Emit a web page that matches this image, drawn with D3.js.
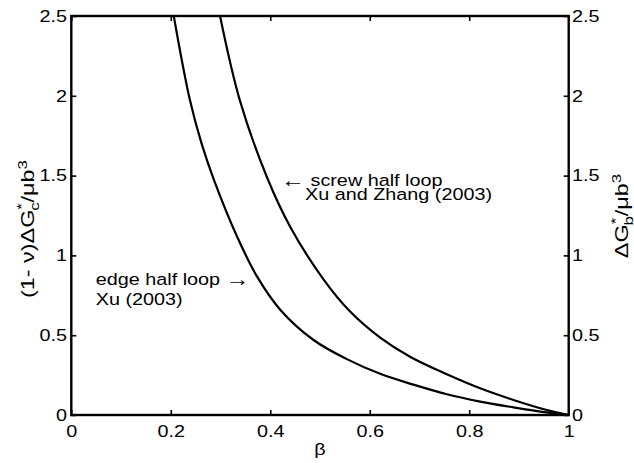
<!DOCTYPE html>
<html>
<head>
<meta charset="utf-8">
<script src="https://cdn.jsdelivr.net/npm/d3@7"></script>
<style>
  html, body { margin: 0; padding: 0; background: #fff; }
  svg { display: block; }
  text { font-family: "Liberation Sans", Arial, Helvetica, sans-serif; fill: #000; }
</style>
</head>
<body>
<svg id="chart" width="634" height="463"></svg>
<script>
// Activation energy vs. normalized stress beta, two half-loop models
const edgeBeta  = [0.206, 0.238, 0.262, 0.286, 0.333, 0.373, 0.420, 0.487, 0.554, 0.621, 0.688, 0.755, 0.822, 0.889, 0.956, 1.0];
const edgeG     = [2.50, 1.98, 1.70, 1.48, 1.12, 0.87, 0.66, 0.47, 0.35, 0.258, 0.19, 0.130, 0.084, 0.048, 0.016, 0];
const screwBeta = [0.299, 0.339, 0.394, 0.440, 0.507, 0.560, 0.621, 0.681, 0.755, 0.822, 0.889, 0.956, 1.0];
const screwG    = [2.50, 1.97, 1.485, 1.18, 0.85, 0.65, 0.485, 0.365, 0.255, 0.167, 0.094, 0.031, 0];

const xTicks = [0, 0.2, 0.4, 0.6, 0.8, 1];
const yTicks = [0, 0.5, 1, 1.5, 2, 2.5];
const xTickLabels = ["0", "0.2", "0.4", "0.6", "0.8", "1"];
const yTickLabels = ["0", "0.5", "1", "1.5", "2", "2.5"];

const FS = 16.5;     // base font size
const SX = 1.2;      // horizontal glyph stretch

const svg = d3.select("#chart");
const L = 71.3, R = 568.7, T = 16, B = 415;

const x = d3.scaleLinear().domain([0, 1]).range([L, R]);
const y = d3.scaleLinear().domain([0, 2.5]).range([B, T]);

// clip for curves
svg.append("defs").append("clipPath").attr("id", "plotclip")
  .append("rect").attr("x", L).attr("y", T).attr("width", R - L).attr("height", B - T);

// curves
const line = d3.line()
  .x(d => x(d[0])).y(d => y(d[1]))
  .curve(d3.curveCatmullRom.alpha(0.5));

const series = [
  d3.zip(edgeBeta, edgeG),
  d3.zip(screwBeta, screwG)
];
svg.append("g").attr("clip-path", "url(#plotclip)")
  .selectAll("path").data(series).join("path")
  .attr("d", line)
  .attr("fill", "none")
  .attr("stroke", "#000")
  .attr("stroke-width", 2.2)
  .attr("stroke-linejoin", "round");

// axes with inward ticks
function styleAxis(g) {
  g.select(".domain").remove();
  g.selectAll(".tick line").attr("stroke", "#000").attr("stroke-width", 1.6);
  g.selectAll("text").attr("font-size", FS).attr("font-family", null).attr("fill", "#000");
}

const bottom = svg.append("g").attr("transform", `translate(0,${B})`)
  .call(d3.axisBottom(x).tickValues(xTicks).tickFormat((d, i) => xTickLabels[i]).tickSize(-5).tickPadding(10))
  .call(styleAxis);
bottom.selectAll("text").attr("transform", `scale(${SX},1)`);

svg.append("g").attr("transform", `translate(0,${T})`)
  .call(d3.axisTop(x).tickValues(xTicks).tickFormat("").tickSize(-5))
  .call(styleAxis);

const left = svg.append("g").attr("transform", `translate(${L},0)`)
  .call(d3.axisLeft(y).tickValues(yTicks).tickFormat((d, i) => yTickLabels[i]).tickSize(-5).tickPadding(4.3))
  .call(styleAxis);
left.selectAll("text").attr("x", -4.3 / SX).attr("transform", `scale(${SX},1)`);

const right = svg.append("g").attr("transform", `translate(${R},0)`)
  .call(d3.axisRight(y).tickValues(yTicks).tickFormat((d, i) => yTickLabels[i]).tickSize(-5).tickPadding(3.3))
  .call(styleAxis);
right.selectAll("text").attr("x", 3.3 / SX).attr("transform", `scale(${SX},1)`);

// frame
svg.append("rect")
  .attr("x", L).attr("y", T).attr("width", R - L).attr("height", B - T)
  .attr("fill", "none").attr("stroke", "#000").attr("stroke-width", 2.4);

// text helper with horizontal stretch; parts may carry their own size
function label(px, py, parts, anchor) {
  const t = svg.append("text")
    .attr("transform", `translate(${px},${py}) scale(${SX},1)`)
    .attr("font-size", FS)
    .attr("text-anchor", anchor || "start");
  (Array.isArray(parts) ? parts : [{ t: parts }]).forEach(p => {
    const s = t.append("tspan").text(p.t);
    if (p.fs) s.attr("font-size", p.fs);
    if (p.dy) s.attr("dy", p.dy);
  });
}

// x axis label
label((L + R) / 2, 455, "β", "middle");

// annotations (thin arrows, slightly enlarged)
label(281, 185.5, [{ t: "\u2190", fs: 20, dy: 1 }, { t: " screw half loop", dy: -1 }]);
label(305, 199.5, "Xu and Zhang (2003)");
label(95.7, 285, [{ t: "edge half loop " }, { t: "\u2192", fs: 20, dy: 1 }]);
label(95.7, 305, "Xu (2003)");

// rotated y labels
function yLabel(px, py, parts) {
  const t = svg.append("g")
    .attr("transform", `translate(${px},${py}) rotate(-90)`)
    .append("text")
    .attr("transform", "scale(1.3,1)")
    .attr("font-size", 18)
    .attr("text-anchor", "middle");
  parts.forEach(p => {
    const s = t.append("tspan").text(p.t);
    if (p.fs) s.attr("font-size", p.fs);
    if (p.dx) s.attr("dx", p.dx);
    if (p.dy) s.attr("dy", p.dy);
  });
}

yLabel(34, 229, [
  { t: "(1- \u03bd)\u0394G" },
  { t: "*", fs: 13, dy: -8 },
  { t: "c", fs: 13, dx: -6, dy: 13 },
  { t: "/\u03bcb", dy: -5 },
  { t: "3", fs: 13, dy: -7 }
]);

yLabel(628, 216, [
  { t: "\u0394G" },
  { t: "*", fs: 13, dy: -8 },
  { t: "b", fs: 13, dx: -6, dy: 13 },
  { t: "/\u03bcb", dy: -5 },
  { t: "3", fs: 13, dy: -7 }
]);
</script>
</body>
</html>
